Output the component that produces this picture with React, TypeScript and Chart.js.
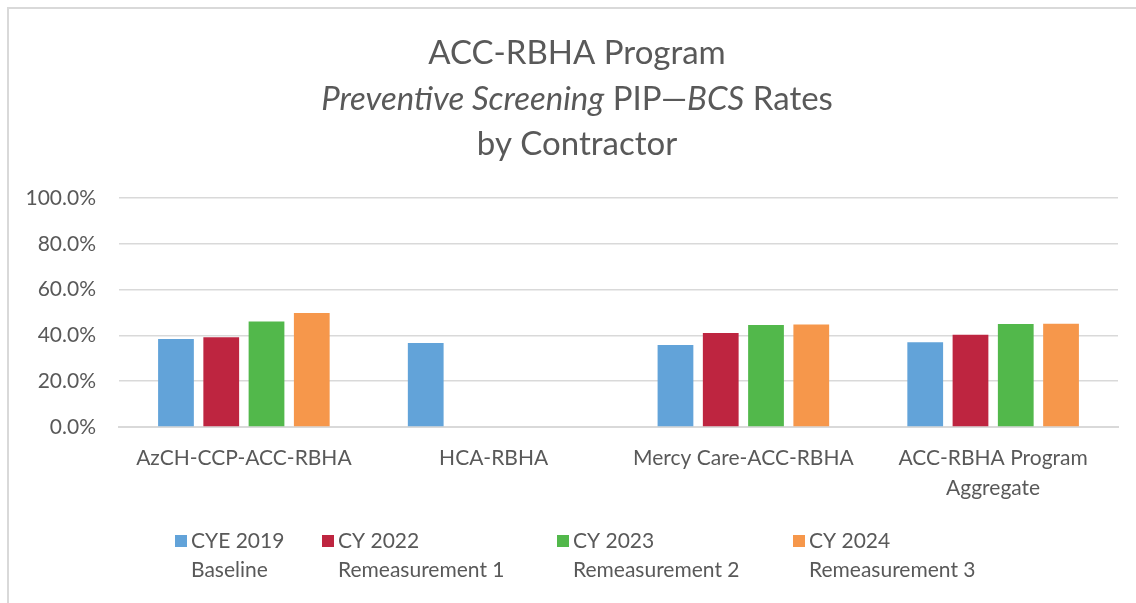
import React, { useEffect, useRef } from "react";
import { Chart, registerables } from "chart.js";

Chart.register(...registerables);

const categories: (string | string[])[] = [
  "AzCH-CCP-ACC-RBHA",
  "HCA-RBHA",
  "Mercy Care-ACC-RBHA",
  ["ACC-RBHA Program", "Aggregate"],
];

const cye2019Baseline = [38.4, 36.7, 35.8, 37.0];
const cy2022Remeasurement1 = [39.2, null, 41.0, 40.3];
const cy2023Remeasurement2 = [46.1, null, 44.5, 45.0];
const cy2024Remeasurement3 = [49.8, null, 44.8, 45.1];

const seriesLabels = [
  ["CYE 2019", "Baseline"],
  ["CY 2022", "Remeasurement 1"],
  ["CY 2023", "Remeasurement 2"],
  ["CY 2024", "Remeasurement 3"],
];
const seriesColors = ["#62a3d9", "#be2540", "#52b84b", "#f6974b"];

const yTicks = [0, 20, 40, 60, 80, 100];

const titleLines: { text: string; italic: boolean }[][] = [
  [{ text: "ACC-RBHA Program", italic: false }],
  [
    { text: "Preventive Screening", italic: true },
    { text: " PIP\u2014", italic: false },
    { text: "BCS", italic: true },
    { text: " Rates", italic: false },
  ],
  [{ text: "by Contractor", italic: false }],
];

const FONT = "Lato";
const TEXT_COLOR = "#595959";

const titlePlugin = {
  id: "richTitle",
  afterDraw(chart: any) {
    const ctx = chart.ctx;
    const size = 33;
    const cx = 577;
    const ys = [53, 99, 144];
    ctx.save();
    ctx.fillStyle = TEXT_COLOR;
    ctx.textBaseline = "middle";
    ctx.textAlign = "left";
    titleLines.forEach((runs, li) => {
      let total = 0;
      const widths = runs.map((r) => {
        ctx.font = `${r.italic ? "italic " : ""}${size}px ${FONT}`;
        const w = ctx.measureText(r.text).width;
        total += w;
        return w;
      });
      let x = cx - total / 2;
      runs.forEach((r, i) => {
        ctx.font = `${r.italic ? "italic " : ""}${size}px ${FONT}`;
        ctx.fillText(r.text, x, ys[li]);
        x += widths[i];
      });
    });
    ctx.restore();
  },
};

const legendX = [175, 322, 557, 793];

const legendPlugin = {
  id: "customLegend",
  afterDraw(chart: any) {
    const ctx = chart.ctx;
    const size = 21;
    const box = 12;
    const line1 = 541;
    const lineGap = 29;
    ctx.save();
    ctx.font = `${size}px ${FONT}`;
    ctx.textBaseline = "middle";
    ctx.textAlign = "left";
    chart.data.datasets.forEach((ds: any, i: number) => {
      const x = legendX[i];
      const lines: string[] = seriesLabels[i];
      ctx.fillStyle = ds.backgroundColor;
      ctx.fillRect(x, line1 - box / 2, box, box);
      ctx.fillStyle = TEXT_COLOR;
      lines.forEach((t, k) => {
        ctx.fillText(t, x + box + 4, line1 + k * lineGap);
      });
    });
    ctx.restore();
  },
};

export default function App() {
  const ref = useRef<HTMLCanvasElement | null>(null);

  useEffect(() => {
    if (!ref.current) return;
    const datasets = [
      cye2019Baseline,
      cy2022Remeasurement1,
      cy2023Remeasurement2,
      cy2024Remeasurement3,
    ].map((data, i) => ({
      label: seriesLabels[i].join(" "),
      data,
      backgroundColor: seriesColors[i],
      borderWidth: 0,
      barPercentage: 0.79,
      categoryPercentage: 0.725,
    }));

    const chart = new Chart(ref.current, {
      type: "bar",
      data: { labels: categories as any, datasets: datasets as any },
      options: {
        animation: false,
        responsive: false,
        devicePixelRatio: 1,
        layout: { padding: { top: 198, right: 18, left: 0, bottom: 0 } },
        plugins: {
          legend: { display: false },
          title: { display: false },
          tooltip: { enabled: false },
        },
        scales: {
          x: {
            grid: { display: false, drawTicks: false },
            border: { display: true, color: "#d9d9d9", width: 2 },
            ticks: {
              color: TEXT_COLOR,
              font: { family: FONT, size: 21, lineHeight: 1.43 },
              padding: 16,
              maxRotation: 0,
              autoSkip: false,
            },
            afterFit: (s: any) => {
              s.height = 176;
            },
          },
          y: {
            min: 0,
            max: 100,
            afterBuildTicks: (s: any) => {
              s.ticks = yTicks.map((v) => ({ value: v }));
            },
            grid: { color: "#d9d9d9", lineWidth: 1.5, drawTicks: false },
            border: { display: false },
            ticks: {
              color: TEXT_COLOR,
              font: { family: FONT, size: 21 },
              padding: 23,
              callback: (v: any) => Number(v).toFixed(1) + "%",
            },
            afterFit: (s: any) => {
              s.width = 119;
            },
          },
        },
      },
      plugins: [titlePlugin, legendPlugin],
    });
    return () => chart.destroy();
  }, []);

  return (
    <div
      style={{
        position: "fixed",
        left: 0,
        top: 0,
        width: 1136,
        height: 603,
        overflow: "hidden",
        background: "#fff",
      }}
    >
      <div
        style={{
          position: "absolute",
          left: 7,
          top: 7,
          width: 1300,
          height: 800,
          borderLeft: "2px solid #d9d9d9",
          borderTop: "2px solid #d9d9d9",
        }}
      />
      <canvas
        ref={ref}
        width={1136}
        height={603}
        style={{ position: "absolute", left: 0, top: 0 }}
      />
    </div>
  );
}
